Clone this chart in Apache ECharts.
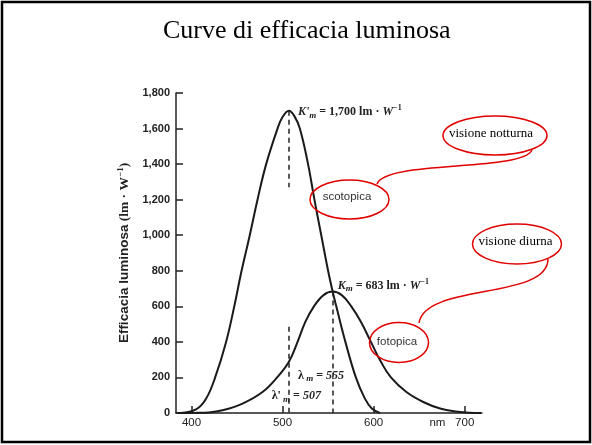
<!DOCTYPE html>
<html>
<head>
<meta charset="utf-8">
<script src="https://cdn.jsdelivr.net/npm/echarts@6.0.0/dist/echarts.min.js"></script>
<style>
  html, body { margin: 0; padding: 0; background: #fff; }
  #chart { width: 592px; height: 445px; }
</style>
</head>
<body>
<div id="chart"></div>
<script>
// curva scotopica (visione notturna): lunghezza d'onda [nm] e efficacia [lm/W]
const scotopicNm = [388, 405, 416, 426, 438, 447, 455, 464, 472.5, 482, 494.5, 500, 507, 513, 519, 528, 535, 542.5, 550, 555, 559, 569, 580.5, 590, 598, 607]
const scotopicVal = [0, 20, 80, 200, 400, 600, 800, 1000, 1200, 1400, 1600, 1665, 1700, 1670, 1600, 1400, 1200, 1000, 800, 683, 600, 400, 200, 85, 25, 0]

// curva fotopica (visione diurna)
const photopicNm = [385, 405, 419, 434, 456, 478, 494, 507, 516.5, 525, 534.5, 545, 555, 565, 575.5, 586, 597, 608, 619, 636, 654.5, 673, 690, 705, 718]
const photopicVal = [0, 1, 3, 15, 53, 118, 200, 288, 400, 513, 600, 663, 683, 663, 600, 513, 400, 288, 200, 118, 62, 25, 8, 2, 0]

// massimi
const peakScot = [507, 1700]
const peakPhot = [555, 683]

// assi
const xTicks = [400, 500, 600, 700]
const xUnitAt = 670
const yTicks = [0, 200, 400, 600, 800, 1000, 1200, 1400, 1600, 1800]

const zip = (a, b) => a.map((v, i) => [v, b[i]])

const serif = 'Liberation Serif'
const sans = 'Liberation Sans'
const ink = '#222'
const red = '#e00000'

const annRich = {
  n: { fontFamily: serif, fontWeight: 'bold', fontSize: 12, color: ink },
  i: { fontFamily: serif, fontWeight: 'bold', fontStyle: 'italic', fontSize: 12, color: ink },
  s: { fontFamily: serif, fontWeight: 'bold', fontStyle: 'italic', fontSize: 9, color: ink, padding: [7, 0, 0, 0] },
  p: { fontFamily: serif, fontWeight: 'bold', fontSize: 8, color: ink, padding: [0, 0, 7, 0] }
}

const dash = { type: [5, 4], color: ink, width: 1.5 }

function ann (coord, text, offset) {
  return {
    coord: coord,
    symbolSize: 0,
    label: {
      show: true,
      position: 'right',
      distance: 0,
      offset: offset || [0, 0],
      formatter: text,
      rich: annRich
    }
  }
}

const myChart = echarts.init(document.getElementById('chart'))

myChart.setOption({
  animation: false,
  backgroundColor: '#fff',
  title: {
    text: 'Curve di efficacia luminosa',
    left: 158,
    top: 13,
    textStyle: { fontFamily: serif, fontWeight: 'normal', fontSize: 26, color: '#000' }
  },
  grid: { left: 176, right: 110, top: 93, bottom: 32 },
  xAxis: {
    type: 'value',
    min: 383,
    max: 719,
    axisLine: { lineStyle: { color: ink, width: 1.5 } },
    axisTick: { customValues: xTicks, inside: true, length: 7, lineStyle: { color: ink, width: 1.5 } },
    axisLabel: {
      customValues: xTicks.concat([xUnitAt]),
      margin: 4,
      fontFamily: sans,
      fontSize: 11.5,
      color: ink,
      formatter: v => (v === xUnitAt ? 'nm' : String(v))
    },
    splitLine: { show: false }
  },
  yAxis: {
    type: 'value',
    min: yTicks[0],
    max: yTicks[yTicks.length - 1],
    interval: 200,
    name: '{a|Efficacia luminosa} {b|(lm · W}{p|−1}{b|)}',
    nameLocation: 'middle',
    nameGap: 41,
    nameTextStyle: {
      rich: {
        a: { fontFamily: sans, fontWeight: 'bold', fontSize: 13.5, color: ink },
        b: { fontFamily: serif, fontWeight: 'bold', fontSize: 13.5, color: ink },
        p: { fontFamily: serif, fontWeight: 'bold', fontSize: 9, color: ink, padding: [0, 0, 7, 0] }
      }
    },
    axisLine: { show: true, lineStyle: { color: ink, width: 1.5 } },
    axisTick: { show: true, inside: true, length: 7, lineStyle: { color: ink, width: 1.5 } },
    axisLabel: {
      margin: 6,
      fontFamily: sans,
      fontWeight: 'bold',
      fontSize: 11,
      color: ink,
      formatter: v => v.toLocaleString('en-US')
    },
    splitLine: { show: false }
  },
  series: [
    {
      name: 'scotopica',
      type: 'line',
      data: zip(scotopicNm, scotopicVal),
      smooth: 0.4,
      showSymbol: false,
      lineStyle: { color: '#1a1a1a', width: 2 },
      markLine: {
        silent: true,
        symbol: 'none',
        label: { show: false },
        lineStyle: dash,
        data: [
          [{ coord: peakScot }, { coord: [peakScot[0], 1270] }],
          [{ coord: [peakScot[0], 485] }, { coord: [peakScot[0], 0] }]
        ]
      },
      markPoint: {
        silent: true,
        data: [
          ann(peakScot, "{i|K'}{s|m}{n| = 1,700 lm · }{i|W}{p|−1}", [9, 1]),
          ann([488, 96], "{n|λ'}{s| m}{n| = }{i|507}")
        ]
      }
    },
    {
      name: 'fotopica',
      type: 'line',
      data: zip(photopicNm, photopicVal),
      smooth: 0.4,
      showSymbol: false,
      lineStyle: { color: '#1a1a1a', width: 2 },
      markLine: {
        silent: true,
        symbol: 'none',
        label: { show: false },
        lineStyle: dash,
        data: [
          [{ coord: peakPhot }, { coord: [peakPhot[0], 0] }]
        ]
      },
      markPoint: {
        silent: true,
        data: [
          ann(peakPhot, '{i|K}{s|m}{n| = 683 lm · }{i|W}{p|−1}', [5, -6]),
          ann([517, 210], '{n|λ}{s| m}{n| = }{i|555}')
        ]
      }
    }
  ],
  graphic: [
    // cornice della diapositiva
    { type: 'rect', shape: { x: 2, y: 2, width: 588, height: 440 }, style: { fill: 'none', stroke: '#000', lineWidth: 2.5 }, z: 100 },
    // richiami in rosso
    { type: 'ellipse', shape: { cx: 495, cy: 135.5, rx: 52, ry: 19.5 }, style: { fill: 'none', stroke: red, lineWidth: 1.5 }, z: 100 },
    { type: 'ellipse', shape: { cx: 349.5, cy: 199.5, rx: 39.5, ry: 19.5 }, style: { fill: 'none', stroke: red, lineWidth: 1.5 }, z: 100 },
    { type: 'ellipse', shape: { cx: 517, cy: 244, rx: 44.5, ry: 20 }, style: { fill: 'none', stroke: red, lineWidth: 1.5 }, z: 100 },
    { type: 'ellipse', shape: { cx: 399, cy: 342.5, rx: 29.5, ry: 20 }, style: { fill: 'none', stroke: red, lineWidth: 1.5 }, z: 100 },
    { type: 'bezierCurve', shape: { x1: 532, y1: 150, cpx1: 522, cpy1: 172, cpx2: 385, cpy2: 160, x2: 377, y2: 184 }, style: { fill: 'none', stroke: red, lineWidth: 1.5 }, z: 100 },
    { type: 'bezierCurve', shape: { x1: 548, y1: 259, cpx1: 548, cpy1: 300, cpx2: 425, cpy2: 283, x2: 419, y2: 323 }, style: { fill: 'none', stroke: red, lineWidth: 1.5 }, z: 100 },
    { type: 'text', x: 491, y: 133.5, style: { text: 'visione notturna', fontFamily: serif, fontSize: 13, fill: '#000', align: 'center', verticalAlign: 'middle' }, z: 100 },
    { type: 'text', x: 515.5, y: 241.5, style: { text: 'visione diurna', fontFamily: serif, fontSize: 13, fill: '#000', align: 'center', verticalAlign: 'middle' }, z: 100 },
    { type: 'text', x: 347, y: 197, style: { text: 'scotopica', fontFamily: sans, fontSize: 11.5, fill: '#333', align: 'center', verticalAlign: 'middle' }, z: 100 },
    { type: 'text', x: 397, y: 341.5, style: { text: 'fotopica', fontFamily: sans, fontSize: 11.5, fill: '#333', align: 'center', verticalAlign: 'middle' }, z: 100 }
  ]
})
</script>
</body>
</html>
